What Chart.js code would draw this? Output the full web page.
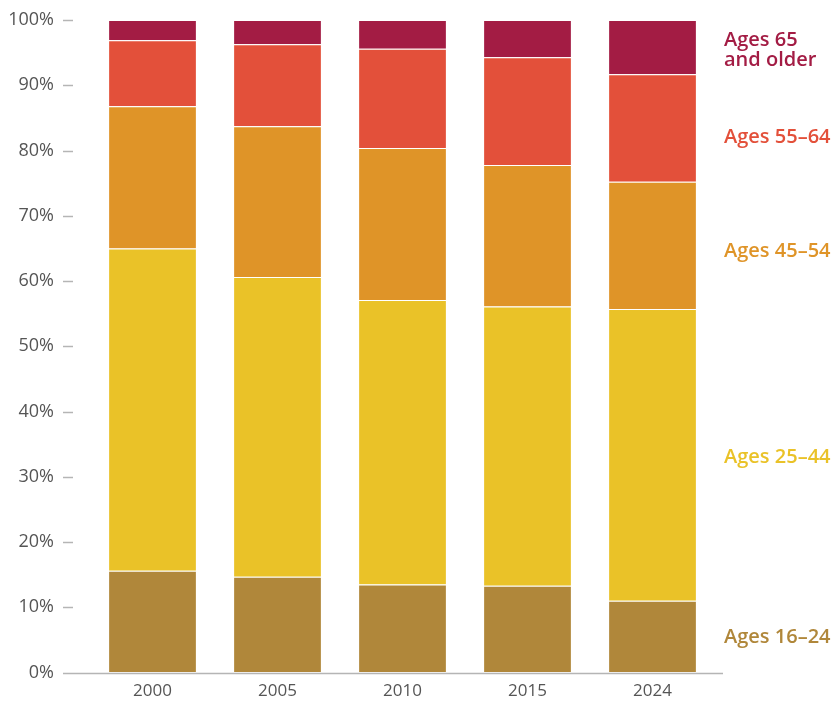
<!DOCTYPE html>
<html>
<head>
<meta charset="utf-8">
<script src="https://cdn.jsdelivr.net/npm/chart.js@4"></script>
<style>
  html, body { margin: 0; padding: 0; background: #fff; }
  #wrap { width: 838px; height: 702px; }
</style>
</head>
<body>
<div id="wrap"><canvas id="ageChart" width="838" height="702"></canvas></div>
<script>
// anos e faixas etarias (percentual do total)
var anos = ['2000', '2005', '2010', '2015', '2024'];
var faixas = ['Ages 16–24', 'Ages 25–44', 'Ages 45–54', 'Ages 55–64', 'Ages 65 and older'];
var rotulos = [['Ages 16–24'], ['Ages 25–44'], ['Ages 45–54'], ['Ages 55–64'], ['Ages 65', 'and older']];
var idade16a24 = [15.6, 14.7, 13.5, 13.3, 11.0];
var idade25a44 = [49.4, 45.9, 43.6, 42.8, 44.7];
var idade45a54 = [21.8, 23.1, 23.3, 21.7, 19.5];
var idade55a64 = [10.1, 12.6, 15.2, 16.5, 16.5];
var idade65mais = [3.1, 3.7, 4.4, 5.7, 8.3];
var cores = ['#B0873A', '#EAC228', '#DF9428', '#E3503A', '#A31C44'];
var marcasY = [0, 10, 20, 30, 40, 50, 60, 70, 80, 90, 100];

var series = [idade16a24, idade25a44, idade45a54, idade55a64, idade65mais];

// deslocamento vertical de cada rotulo em relacao ao meio do segmento
var ajusteRotulo = [1, 2, 6, 9, 3];

// eixo com tracinhos cinza e rotulos na direita
var extras = {
    id: 'extras',
    afterDraw: function (chart) {
        var c = chart.ctx;
        var area = chart.chartArea;
        var y = chart.scales.y;
        c.save();
        c.strokeStyle = '#b5b5b5';
        c.lineWidth = 1.5;
        marcasY.forEach(function (v) {
            var py = Math.round(y.getPixelForValue(v)) + 0.5;
            c.beginPath();
            if (v === 0) {
                c.moveTo(area.left - 27, py);
                c.lineTo(area.right + 8, py);
            } else {
                c.moveTo(area.left - 27, py);
                c.lineTo(area.left - 17, py);
            }
            c.stroke();
        });
        // rotulos das series ao lado da ultima barra
        var ult = anos.length - 1;
        var base = 0;
        c.font = '600 20px "Open Sans", sans-serif';
        c.textBaseline = 'middle';
        c.textAlign = 'left';
        series.forEach(function (s, i) {
            var meio = base + s[ult] / 2;
            base += s[ult];
            var py = y.getPixelForValue(meio) + ajusteRotulo[i];
            var linhas = rotulos[i];
            c.fillStyle = cores[i];
            linhas.forEach(function (t, k) {
                c.fillText(t, area.right + 9, py + (k - (linhas.length - 1) / 2) * 20);
            });
        });
        c.restore();
    }
};

var ctx = document.getElementById('ageChart').getContext('2d');

var grafico = new Chart(ctx, {
    type: 'bar',
    data: {
        labels: anos,
        datasets: series.map(function (s, i) {
            return {
                label: faixas[i],
                data: s,
                backgroundColor: cores[i],
                borderColor: '#ffffff',
                borderWidth: 1,
                categoryPercentage: 1,
                barPercentage: 0.71
            };
        })
    },
    options: {
        responsive: false,
        animation: false,
        layout: { padding: { top: 20, right: 123, bottom: -7, left: 0 } },
        plugins: {
            legend: { display: false },
            tooltip: { enabled: false }
        },
        scales: {
            x: {
                stacked: true,
                grid: { display: false, drawTicks: false, tickLength: 0 },
                border: { display: false },
                ticks: {
                    color: '#555',
                    padding: 8,
                    font: { family: '"Open Sans", sans-serif', size: 17 }
                }
            },
            y: {
                stacked: true,
                min: 0,
                max: 100,
                afterBuildTicks: function (axis) {
                    axis.ticks = marcasY.map(function (v) { return { value: v }; });
                },
                afterFit: function (axis) {
                    axis.width = 90;
                    axis.paddingTop = 0;
                    axis.paddingBottom = 0;
                },
                grid: { display: true, drawOnChartArea: false, tickColor: 'rgba(0,0,0,0)', tickLength: 10 },
                border: { display: false },
                ticks: {
                    color: '#555',
                    padding: 26,
                    font: { family: '"Open Sans", sans-serif', size: 18 },
                    callback: function (v) { return v + '%'; }
                }
            }
        }
    },
    plugins: [extras]
});
</script>
</body>
</html>
